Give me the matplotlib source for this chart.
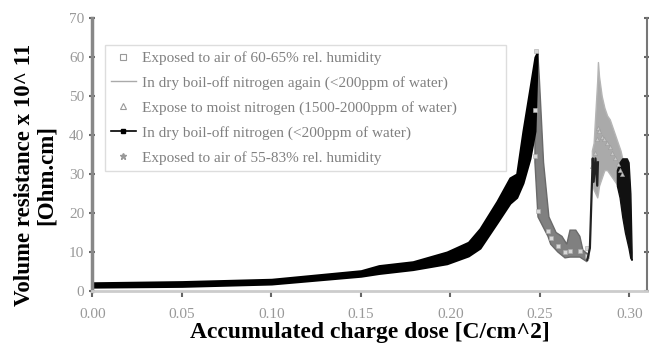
import numpy as np
import matplotlib
matplotlib.use("Agg")
import matplotlib.pyplot as plt

plt.rcParams['font.family'] = ['Liberation Serif', 'DejaVu Serif']

# Chaque série est une bande épaisse : bord bas / bord haut
# Azote sec (courbe principale)
sec_x = [0.000, 0.050, 0.100, 0.150, 0.160, 0.179, 0.198, 0.210, 0.2165, 0.226,
         0.2332, 0.237, 0.2405, 0.2444, 0.2472, 0.2483]
sec_bas = [1.0, 1.2, 1.8, 3.8, 4.5, 5.5, 7.0, 9.0, 11.0, 17.5,
           22.5, 24.0, 27.7, 34.0, 41.0, 58.0]
sec_haut = [2.1, 2.4, 3.0, 5.2, 6.5, 7.5, 10.0, 12.5, 16.0, 23.0,
            29.0, 30.0, 41.0, 52.0, 60.0, 61.0]

# Air humide 60-65 % : contour de la bande (bord gauche puis bord droit)
air1_x = [0.2478, 0.2472, 0.2472, 0.2489, 0.2545, 0.2560, 0.2600, 0.2640, 0.2668,
          0.2723, 0.2763, 0.2765, 0.2740, 0.2723, 0.2700, 0.2668, 0.2650, 0.2623,
          0.2590, 0.2550, 0.2520, 0.2507, 0.2496, 0.2488]
air1_y = [60, 45, 33, 19, 14, 12, 10, 8.5, 8.7,
          8.7, 7.5, 9.5, 10.5, 14, 15.6, 15.6, 12, 14,
          15, 19, 33, 45, 55, 61]

# Azote sec de nouveau
encore_x = [0.2765, 0.2779, 0.2790, 0.2795, 0.2800, 0.2810, 0.2820, 0.2824]
encore_y = [8, 11, 27, 34, 28, 34, 27, 33]

# Azote humide
humide_x = [0.2790, 0.2800, 0.2810, 0.2820, 0.2824, 0.2830, 0.2845, 0.2860, 0.2875,
            0.2890, 0.2905, 0.2920, 0.2935, 0.2950, 0.2960]
humide_bas = [28, 26, 25, 24, 25, 27, 29, 31, 31,
              30, 29, 28, 27, 26, 26]
humide_haut = [36, 38, 46, 54, 58.7, 55, 50, 47, 45,
               44, 42, 40, 38, 36, 34]

# Air 55-83 %
air2_x = [0.2930, 0.2945, 0.2960, 0.2975, 0.2985, 0.2995, 0.3005, 0.3012]
air2_bas = [27, 24, 19, 15, 13, 11, 8.5, 8]
air2_haut = [31, 33, 34, 34, 34, 33, 25, 10]

legendes = ["Exposed to air of 60-65% rel. humidity",
            "In dry boil-off nitrogen again (<200ppm of water)",
            "Expose to moist nitrogen (1500-2000ppm of water)",
            "In dry boil-off nitrogen (<200ppm of water)",
            "Exposed to air of 55-83% rel. humidity"]

fig = plt.figure(figsize=(6.49, 3.48), dpi=100)
ax = fig.add_axes([0.1425, 0.1638, 0.8544, 0.7845])


def centre(bas, haut):
    return [(b + h) / 2 for b, h in zip(bas, haut)]


# air 60-65 % : bande grise, carrés clairs dessus
ax.fill(air1_x, air1_y, color='#808080', lw=1, edgecolor='#6a6a6a')
n = len(air1_x) // 2
ax.plot(air1_x[:n], [y + 1.5 for y in air1_y[:n]], ls='none', marker='s', ms=3,
        mfc='#d8d8d8', mec='#aaaaaa', mew=0.4)

# azote humide : bande gris clair
ax.fill_between(humide_x, humide_bas, humide_haut, color='#aaaaaa', lw=1,
                edgecolor='#b5b5b5')
ax.plot(humide_x, centre(humide_bas, humide_haut), ls='none', marker='^', ms=3,
        mfc='#c8c8c8', mec='#999999', mew=0.4)

# retour azote sec : trait fin sombre
ax.plot(encore_x, encore_y, color='#222222', lw=1.6)

# azote sec : courbe principale noire
ax.fill_between(sec_x, sec_bas, sec_haut, color='black', lw=1.5, edgecolor='black')

# air 55-83 % : bande noire finale
ax.fill_between(air2_x, air2_bas, air2_haut, color='#111111', lw=1, edgecolor='#111111')

# poignées de légende
p1, = ax.plot([], [], ls='none', marker='s', ms=5, mfc='white', mec='#999999', mew=0.8)
p2, = ax.plot([], [], color='#aaaaaa', lw=1)
p3, = ax.plot([], [], ls='none', marker='^', ms=5, mfc='white', mec='#999999', mew=0.8)
p4, = ax.plot([], [], color='black', lw=1.2, marker='s', ms=3)
p5, = ax.plot([], [], ls='none', marker='*', ms=5, color='#999999')

leg = ax.legend([p1, p2, p3, p4, p5], legendes, loc='upper left',
                bbox_to_anchor=(0.0225, 0.454, 0.7225, 0.447), mode='expand',
                borderaxespad=0, fontsize=11, labelspacing=0.72, handlelength=1.6,
                handletextpad=0.4, borderpad=0.4, fancybox=False, framealpha=1,
                edgecolor='#dddddd')
for t in leg.get_texts():
    t.set_color('#808080')

ax.set_xlim(0, 0.3098)
ax.set_ylim(0, 70)
ax.set_xticks(np.arange(0, 0.31, 0.05))
ax.set_xticklabels(["%.2f" % v for v in np.arange(0, 0.31, 0.05)])
ax.set_yticks(np.arange(0, 71, 10))

ax.tick_params(axis='both', colors='#666666', labelcolor='#999999', labelsize=11,
               width=1.5, length=4)
ax.tick_params(axis='x', pad=8)
ax.tick_params(axis='y', direction='inout', right=True, length=5)
ax.spines['top'].set_visible(False)
ax.spines['left'].set_color('#888888')
ax.spines['left'].set_linewidth(2.5)
ax.spines['bottom'].set_color('#cccccc')
ax.spines['bottom'].set_linewidth(2)
ax.spines['right'].set_color('#777777')
ax.spines['right'].set_linewidth(1.5)

ax.set_xlabel("Accumulated charge dose [C/cm^2]", fontsize=17, fontweight='bold',
              labelpad=1)
ax.set_ylabel("Volume resistance x 10^ 11\n[Ohm.cm]", fontsize=16.5,
              fontweight='bold', linespacing=1.05)
ax.yaxis.set_label_coords(-0.064, 0.425)

fig.savefig("out.png", dpi=100)
